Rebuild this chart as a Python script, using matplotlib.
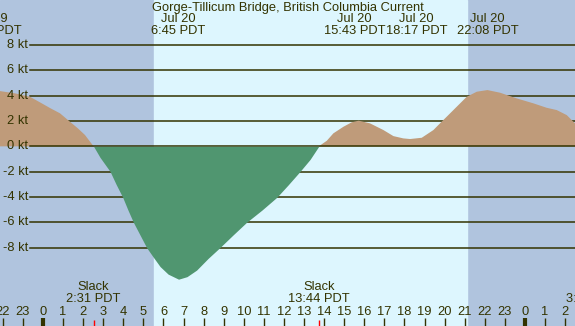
import numpy as np
import matplotlib
matplotlib.use("Agg")
import matplotlib.pyplot as plt

# current speed (kt), hours from Jul 20 00:00 PDT
hours = [-2.14, -1.39, -0.65, -0.15, 0.35, 0.85, 1.34, 1.74, 2.09, 2.52,
         2.84, 3.34, 3.64, 3.97, 4.23, 4.5, 4.83, 5.16, 5.48, 5.83,
         6.23, 6.75, 7.17, 7.65, 8.22, 8.81, 9.46, 10.14, 10.9, 11.64,
         12.2, 12.8, 13.3, 13.73, 14.13, 14.46, 14.96, 15.37, 15.72, 16.28,
         16.95, 17.45, 17.94, 18.28, 18.86, 19.44, 19.77, 20.1, 20.6, 21.1,
         21.6, 22.13, 22.76, 23.59, 24.42, 25.08, 25.58, 26.08, 26.49]
speed = [4.37, 4.19, 3.92, 3.48, 3.03, 2.61, 1.95, 1.42, 0.9, 0.0,
         -0.87, -1.98, -3.0, -4.03, -5.03, -6.0, -7.0, -8.0, -8.73, -9.5,
         -10.1, -10.5, -10.3, -9.78, -8.86, -8.0, -7.01, -6.0, -5.04, -4.03,
         -3.06, -1.98, -1.03, 0.0, 0.44, 1.03, 1.55, 1.9, 2.03, 1.82,
         1.29, 0.81, 0.63, 0.58, 0.68, 1.29, 1.82, 2.34, 3.13, 3.92,
         4.32, 4.45, 4.24, 3.79, 3.4, 3.05, 2.87, 2.47, 1.82]

kt_levels = [8, 6, 4, 2, 0, -2, -4, -6, -8]
hour_ticks = list(range(-2, 27))

# daylight (sunrise / sunset)
day_start, day_end = 5.53, 21.12

# max / min current labels (label position, date, text) - nudged apart like the original
event_hours = [-2.6, 6.72, 15.52, 18.59, 22.13]
event_dates = ["Jul 19", "Jul 20", "Jul 20", "Jul 20", "Jul 20"]
event_times = ["21:25 PDT", "6:45 PDT", "15:43 PDT", "18:17 PDT", "22:08 PDT"]

slack_hours = [2.52, 13.73, 27.4]
slack_times = ["2:31 PDT", "13:44 PDT", "3:24 PDT"]

title = "Gorge-Tillicum Bridge, British Columbia Current"

night_col = "#b0c4de"
day_col = "#ddf6fe"
flood_col = "#bf9b7a"
ebb_col = "#509670"
ink = "#333300"

plt.rcParams['font.family'] = ['Liberation Sans', 'DejaVu Sans']
fs = 9.3

W, H = 575, 326
fig = plt.figure(figsize=(W / 100, H / 100), dpi=100)
ax = fig.add_axes([0, 0, 1, 1])
x0, x1 = -2.14, 26.49
ax.set_xlim(x0, x1)
ax.set_ylim(-14.2, 11.57)
ax.axis("off")

ax.axvspan(x0, x1, color=night_col, zorder=0)
ax.axvspan(day_start, day_end, color=day_col, zorder=0.5)

t = np.array(hours)
v = np.array(speed)
ax.fill_between(t, v, 0, where=v >= 0, interpolate=True, color=flood_col, lw=0, zorder=2)
ax.fill_between(t, v, 0, where=v <= 0, interpolate=True, color=ebb_col, lw=0, zorder=4)

for k in kt_levels:
    ax.axhline(k, xmin=30 / W, xmax=1, color=ink, lw=1.1, zorder=3 if k == 0 else 1)
    ax.text(28 / W, k, f"{k} kt", transform=ax.get_yaxis_transform(),
            ha="right", va="center", fontsize=fs, color=ink, zorder=5)

xt = ax.get_xaxis_transform()
for h in hour_ticks:
    ax.text(h, 1 - 312 / H, str(h % 24), transform=xt, ha="center", va="center",
            fontsize=fs, color=ink, zorder=5)
    lw = 3 if h % 24 == 0 else 1
    ax.plot([h, h], [0, 8 / H], transform=xt, color=ink, lw=lw, zorder=5,
            solid_capstyle="butt")

for h, s in zip(slack_hours, slack_times):
    ax.plot([h, h], [0, 6 / H], transform=xt, color="red", lw=1, zorder=5,
            solid_capstyle="butt")
    ax.text(h, 1 - 287 / H, "Slack", transform=xt, ha="center", va="center",
            fontsize=fs, color=ink, zorder=5)
    ax.text(h, 1 - 299.5 / H, s, transform=xt, ha="center", va="center",
            fontsize=fs, color=ink, zorder=5)

for h, d, s in zip(event_hours, event_dates, event_times):
    ax.text(h, 1 - 19 / H, d, transform=xt, ha="center", va="center",
            fontsize=fs, color=ink, zorder=5)
    ax.text(h, 1 - 31.5 / H, s, transform=xt, ha="center", va="center",
            fontsize=fs, color=ink, zorder=5)

ax.text(288 / W, 1 - 7.5 / H, title, transform=ax.transAxes, ha="center",
        va="center", fontsize=fs, color=ink, zorder=5)

fig.savefig("out.png", dpi=100)
